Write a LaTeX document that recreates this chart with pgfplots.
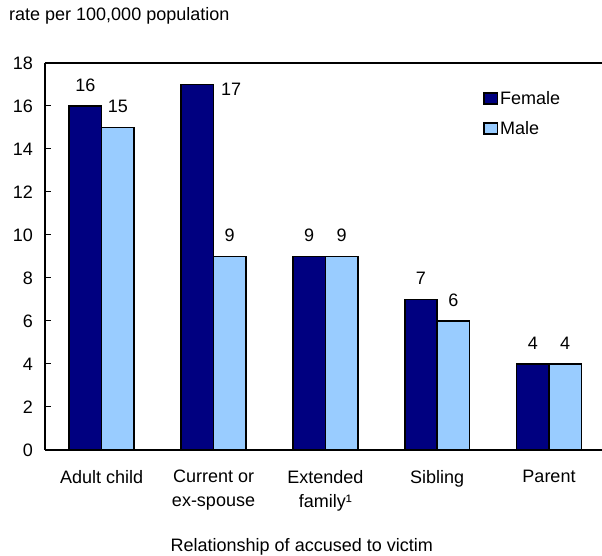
\documentclass[border=0pt]{standalone}
\usepackage{fontspec}
\setmainfont{Liberation Sans}
\usepackage{pgfplots}
\pgfplotsset{compat=1.18}
\definecolor{fem}{RGB}{0,0,128}
\definecolor{mal}{RGB}{153,204,255}
\begin{document}
\begin{tikzpicture}
\begin{axis}[
  scale only axis, width=557pt, height=387pt,
  font=\fontsize{18}{24}\selectfont,
  /pgf/number format/assume math mode=true,
  ybar, bar width=0.29,
  xmin=-0.507, xmax=4.474, ymin=0, ymax=18,
  xtick={0,1,2,3,4},
  xticklabels={Adult child,{Current or\\ex-spouse},{Extended\\family¹},Sibling,Parent},
  ytick={0,2,...,18},
  axis x line*=bottom, axis y line*=left,
  axis line style={-, line width=2pt, black},
  tick align=inside, major tick length=6pt,
  ytick style={line width=1pt, black},
  xtick style={draw=none},
  xticklabel style={align=center, anchor=north, inner sep=0pt, yshift=-20pt},
  yticklabel style={anchor=east, inner sep=0pt, xshift=-12pt},
  xlabel={Relationship of accused to victim},
  xlabel style={at={(axis description cs:0.461,0)}, anchor=north, inner sep=0pt, yshift=-88.5pt},
  ylabel={rate per 100,000 population},
  ylabel style={rotate=-90, anchor=base west, inner sep=0pt, at={(axis description cs:0,1)}, xshift=-36pt, yshift=42pt},
  clip=false,
  every node near coord/.append style={font=\fontsize{18}{24}\selectfont, inner sep=0pt, anchor=south, yshift=14pt, text=black},
  legend style={at={(axis description cs:0.7864,0.9276)}, anchor=north west, draw=none, fill=none, inner sep=0pt, row sep=15.5pt, column sep=2pt, nodes={inner sep=0pt, anchor=west}},
  legend image code/.code={\draw[#1, line width=1.6pt] (0pt,-5.7pt) rectangle (13.4pt,5.7pt);},
]
\addplot[fill=fem, draw=black, line width=1.6pt, bar shift=-0.145,
  point meta=explicit symbolic, nodes near coords]
  coordinates {(0,16) [16] (1,17) [] (2,9) [9] (3,7) [7] (4,4) [4]};
\addlegendentry{Female}
\addplot[fill=mal, draw=black, line width=1.6pt, bar shift=0.145,
  point meta=explicit symbolic, nodes near coords]
  coordinates {(0,15) [15] (1,9) [9] (2,9) [9] (3,6) [6] (4,4) [4]};
\addlegendentry{Male}
\addplot[draw=none, fill=none, bar shift=-0.145, forget plot,
  point meta=explicit symbolic, nodes near coords,
  every node near coord/.append style={anchor=base west, xshift=23.5pt, yshift=-25.5pt}]
  coordinates {(1,17) [17]};
\draw[line width=2pt, black] (rel axis cs:0,1) -- (rel axis cs:1,1);
\coordinate (bl) at (rel axis cs:0,0);
\coordinate (tr) at (rel axis cs:1,1);
\end{axis}
\pgfresetboundingbox
\path[use as bounding box] ([shift={(-45pt,-106pt)}]bl) rectangle ([shift={(0pt,63pt)}]tr);
\end{tikzpicture}
\end{document}
